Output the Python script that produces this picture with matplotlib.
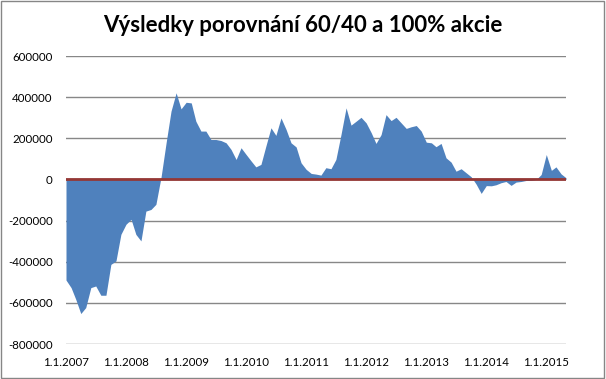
import numpy as np
import pandas as pd
import matplotlib
matplotlib.use('Agg')
import matplotlib.pyplot as plt
from matplotlib.patches import Rectangle

# Monthly difference 60/40 vs 100% stocks, Jan 2007 - May 2015
start = '2007-01-01'
diff = [
    -489000, -526000, -582000, -652000, -623000, -526000, -518000, -563000, -563000, -413000,
    -396000, -267000, -218000, -194000, -267000, -299000, -154000, -146000, -121000, 10000,
    178000, 332000, 421000, 343000, 375000, 372000, 283000, 235000, 235000, 194000,
    194000, 189000, 178000, 146000, 97000, 154000, 121000, 89000, 61000, 73000,
    162000, 251000, 214000, 299000, 243000, 178000, 158000, 81000, 49000, 29000,
    26000, 21000, 57000, 52000, 97000, 218000, 348000, 264000, 283000, 302000,
    275000, 227000, 175000, 218000, 315000, 286000, 302000, 275000, 248000, 256000,
    262000, 235000, 181000, 178000, 159000, 175000, 105000, 84000, 40000, 52000,
    32000, 13000, -24000, -68000, -30000, -31000, -26000, -16000, -10000, -29000,
    -13000, -10000, -5000, -5000, 0, 24000, 121000, 44000, 61000, 27000,
    8000,
]
dates = pd.date_range(start, periods=len(diff), freq='MS')
zero = np.zeros(len(diff))

TITLE = 'Výsledky porovnání 60/40 a 100% akcie'
yticks = np.arange(-800000, 600001, 200000)
xtick_years = list(range(2007, 2016))

plt.rcParams['font.family'] = ['Lato', 'DejaVu Sans']

fig = plt.figure(figsize=(6.06, 3.79), dpi=100)
ax = fig.add_axes([66 / 606, 1 - 344 / 379, 500 / 606, 288 / 379])

ax.fill_between(dates, diff, 0, color='#4F81BD', linewidth=0, zorder=2)
ax.plot(dates, zero, color='#953735', linewidth=2, zorder=3)

ax.set_xlim(dates[0], dates[-1])
ax.set_ylim(-800000, 600000)
ax.set_yticks(yticks)
ax.set_yticklabels([str(v) for v in yticks], fontsize=8.3)
ax.set_xticks([pd.Timestamp(f'{y}-01-01') for y in xtick_years])
ax.set_xticklabels([f'1.1.{y}' for y in xtick_years], fontsize=8.3)
ax.tick_params(axis='y', length=0, pad=9.5)
ax.tick_params(axis='x', length=0, pad=9.5)
ax.grid(axis='y', color='#878787', linewidth=1, zorder=1)
for s in ax.spines.values():
    s.set_visible(False)

fig.text(0.5, 1 - 25 / 379, TITLE, ha='center', va='center',
         fontsize=16, fontweight='bold')

fig.patches.append(Rectangle((0.002, 0.003), 0.995, 0.994, transform=fig.transFigure,
                             fill=False, edgecolor='#868686', linewidth=1))

fig.savefig('out.png', dpi=100)
